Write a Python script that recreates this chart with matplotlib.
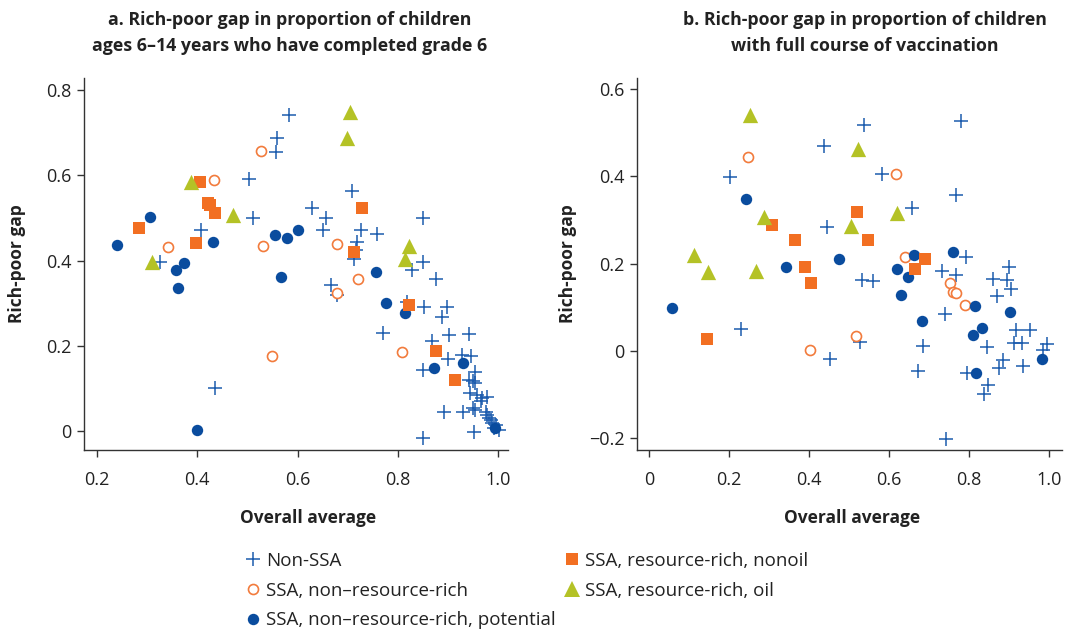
import matplotlib
matplotlib.use("Agg")
import matplotlib.pyplot as plt
from matplotlib.lines import Line2D

# ---- panel a: grade 6 completion ----
a_nonssa_x = [0.584, 0.560, 0.558, 0.503, 0.511, 0.407, 0.325, 0.435,
              0.709, 0.629, 0.657, 0.851, 0.651, 0.727, 0.759, 0.719, 0.716,
              0.712, 0.851, 0.828, 0.877, 0.667, 0.679, 0.819, 0.853, 0.898,
              0.888, 0.771, 0.902, 0.942, 0.869, 0.900, 0.929, 0.946, 0.850,
              0.954, 0.943, 0.951, 0.955, 0.944, 0.959, 0.969, 0.979, 0.966,
              0.950, 0.955, 0.893, 0.930, 0.976, 0.979, 0.983, 0.986, 0.989,
              0.996, 0.993, 1.003, 0.953, 0.851]
a_nonssa_y = [0.742, 0.687, 0.656, 0.591, 0.501, 0.473, 0.397, 0.100,
              0.564, 0.523, 0.499, 0.501, 0.473, 0.472, 0.462, 0.443, 0.425,
              0.403, 0.396, 0.377, 0.357, 0.343, 0.319, 0.303, 0.290, 0.290,
              0.268, 0.229, 0.225, 0.228, 0.210, 0.168, 0.178, 0.176, 0.142,
              0.139, 0.120, 0.116, 0.112, 0.090, 0.085, 0.077, 0.080, 0.070,
              0.053, 0.049, 0.045, 0.045, 0.045, 0.038, 0.030, 0.026, 0.018,
              0.014, 0.006, 0.002, -0.002, -0.017]

a_nonrr_x = [0.527, 0.434, 0.341, 0.531, 0.549, 0.679, 0.720, 0.679, 0.808]
a_nonrr_y = [0.657, 0.589, 0.433, 0.435, 0.176, 0.440, 0.357, 0.325, 0.185]

a_potential_x = [0.306, 0.432, 0.240, 0.556, 0.579, 0.601, 0.374, 0.357, 0.361,
                 0.567, 0.399, 0.757, 0.777, 0.814, 0.931, 0.872, 0.995]
a_potential_y = [0.503, 0.443, 0.437, 0.459, 0.454, 0.472, 0.395, 0.379, 0.335,
                 0.361, 0.002, 0.374, 0.301, 0.276, 0.159, 0.147, 0.006]

a_nonoil_x = [0.405, 0.422, 0.425, 0.435, 0.284, 0.397, 0.728, 0.712, 0.823,
              0.877, 0.915]
a_nonoil_y = [0.585, 0.536, 0.530, 0.512, 0.477, 0.442, 0.524, 0.421, 0.296,
              0.188, 0.120]

a_oil_x = [0.387, 0.472, 0.310, 0.704, 0.699, 0.823, 0.814]
a_oil_y = [0.585, 0.507, 0.397, 0.750, 0.687, 0.435, 0.404]

# ---- panel b: full vaccination ----
b_nonssa_x = [0.203, 0.438, 0.444, 0.538, 0.779, 0.582, 0.768, 0.657, 0.792,
              0.732, 0.767, 0.532, 0.561, 0.900, 0.861, 0.896, 0.905, 0.869,
              0.740, 0.917, 0.953, 0.913, 0.932, 0.996, 0.986, 0.528, 0.685,
              0.845, 0.886, 0.874, 0.934, 0.672, 0.794, 0.848, 0.838, 0.743,
              0.229, 0.453]
b_nonssa_y = [0.398, 0.469, 0.284, 0.518, 0.526, 0.405, 0.356, 0.327, 0.215,
              0.182, 0.173, 0.163, 0.161, 0.191, 0.164, 0.163, 0.142, 0.125,
              0.084, 0.047, 0.048, 0.018, 0.018, 0.015, 0.002, 0.021, 0.012,
              0.008, -0.021, -0.040, -0.034, -0.047, -0.051, -0.078, -0.099,
              -0.202, 0.050, -0.019]

b_nonrr_x = [0.247, 0.618, 0.640, 0.753, 0.761, 0.767, 0.790, 0.517, 0.403]
b_nonrr_y = [0.443, 0.404, 0.215, 0.155, 0.135, 0.132, 0.104, 0.033, 0.001]

b_potential_x = [0.243, 0.343, 0.476, 0.663, 0.759, 0.619, 0.648, 0.630,
                 0.814, 0.902, 0.683, 0.832, 0.810, 0.983, 0.818, 0.057]
b_potential_y = [0.349, 0.192, 0.210, 0.219, 0.226, 0.188, 0.170, 0.127,
                 0.103, 0.090, 0.069, 0.053, 0.037, -0.018, -0.051, 0.098]

b_nonoil_x = [0.307, 0.365, 0.519, 0.390, 0.405, 0.548, 0.690, 0.665, 0.144]
b_nonoil_y = [0.289, 0.255, 0.317, 0.193, 0.155, 0.253, 0.211, 0.188, 0.028]

b_oil_x = [0.253, 0.523, 0.288, 0.505, 0.113, 0.147, 0.268, 0.619]
b_oil_y = [0.541, 0.463, 0.307, 0.287, 0.219, 0.180, 0.184, 0.316]

labels = ["Non-SSA", "SSA, non\u2013resource-rich",
          "SSA, non\u2013resource-rich, potential",
          "SSA, resource-rich, nonoil", "SSA, resource-rich, oil"]

c_plus = "#1c5cae"
c_dot = "#0a4c9e"
c_open = "#f27b3c"
c_sq = "#f26f22"
c_tri = "#b4c226"

plt.rcParams["font.family"] = ["Open Sans", "DejaVu Sans"]
plt.rcParams["axes.unicode_minus"] = True


def draw(ax, d):
    ax.scatter(d[0], d[1], marker="+", s=9.5**2, color=c_plus, lw=1.1, zorder=3)
    ax.scatter(d[2], d[3], marker="o", s=7.2**2, facecolor="white",
               edgecolor=c_open, lw=1.2, zorder=3)
    ax.scatter(d[4], d[5], marker="o", s=8.2**2, color=c_dot, lw=0, zorder=3)
    ax.scatter(d[6], d[7], marker="s", s=8.6**2, color=c_sq, lw=0, zorder=3)
    ax.scatter(d[8], d[9], marker="^", s=11**2, color=c_tri, lw=0, zorder=3)
    for s in ("top", "right"):
        ax.spines[s].set_visible(False)
    for s in ("left", "bottom"):
        ax.spines[s].set_linewidth(1.0)
        ax.spines[s].set_color("#333333")
    ax.tick_params(direction="out", length=5, width=1.0, color="#333333",
                   labelsize=13, labelcolor="#222222")
    ax.tick_params(axis="x", pad=10)
    ax.tick_params(axis="y", pad=4)
    ax.set_xlabel("Overall average", fontsize=12.5, fontweight="bold",
                  color="#222222")
    ax.set_ylabel("Rich-poor gap", fontsize=12.5, fontweight="bold",
                  color="#222222")


fig = plt.figure(figsize=(10.7, 6.32), dpi=100)

ax1 = fig.add_axes([84 / 1070, 1 - 450 / 632, 424 / 1070, 372 / 632])
draw(ax1, [a_nonssa_x, a_nonssa_y, a_nonrr_x, a_nonrr_y, a_potential_x,
           a_potential_y, a_nonoil_x, a_nonoil_y, a_oil_x, a_oil_y])
ax1.set_xlim(0.174, 1.02)
ax1.set_ylim(-0.045, 0.829)
ax1.set_xticks([0.2, 0.4, 0.6, 0.8, 1.0])
ax1.set_xticklabels(["0.2", "0.4", "0.6", "0.8", "1.0"])
ax1.set_yticks([0, 0.2, 0.4, 0.6, 0.8])
ax1.set_yticklabels(["0", "0.2", "0.4", "0.6", "0.8"])
ax1.xaxis.set_label_coords(0.528, -0.158)
ax1.yaxis.set_label_coords(-0.136, 0.5)

ax2 = fig.add_axes([637 / 1070, 1 - 450 / 632, 425 / 1070, 372 / 632])
draw(ax2, [b_nonssa_x, b_nonssa_y, b_nonrr_x, b_nonrr_y, b_potential_x,
           b_potential_y, b_nonoil_x, b_nonoil_y, b_oil_x, b_oil_y])
ax2.set_xlim(-0.03, 1.0325)
ax2.set_ylim(-0.227, 0.625)
ax2.set_xticks([0, 0.2, 0.4, 0.6, 0.8, 1.0])
ax2.set_xticklabels(["0", "0.2", "0.4", "0.6", "0.8", "1.0"])
ax2.set_yticks([-0.2, 0, 0.2, 0.4, 0.6])
ax2.set_yticklabels(["\u22120.2", "0", "0.2", "0.4", "0.6"])
ax2.xaxis.set_label_coords(0.506, -0.158)
ax2.yaxis.set_label_coords(-0.142, 0.5)

tkw = dict(ha="center", va="center", fontsize=12.8, fontweight="bold",
           color="#222222")
fig.text(290 / 1070, 1 - 20 / 632, "a. Rich-poor gap in proportion of children", **tkw)
fig.text(290 / 1070, 1 - 46 / 632, "ages 6\u201314 years who have completed grade 6", **tkw)
fig.text(865 / 1070, 1 - 20 / 632, "b. Rich-poor gap in proportion of children", **tkw)
fig.text(865 / 1070, 1 - 46 / 632, "with full course of vaccination", **tkw)

# legend
h_plus = Line2D([], [], ls="none", marker="+", ms=9.5, mew=1.1, color=c_plus)
h_open = Line2D([], [], ls="none", marker="o", ms=7.2, mew=1.2,
                mfc="white", mec=c_open)
h_dot = Line2D([], [], ls="none", marker="o", ms=8.2, mew=0, color=c_dot)
h_sq = Line2D([], [], ls="none", marker="s", ms=8.6, mew=0, color=c_sq)
h_tri = Line2D([], [], ls="none", marker="^", ms=11, mew=0, color=c_tri)

lkw = dict(loc="upper left", frameon=False, fontsize=13.5, handlelength=0.8,
           handletextpad=0.3, labelspacing=0.62, borderpad=0,
           borderaxespad=0, labelcolor="#222222")
fig.legend([h_plus, h_open, h_dot], labels[:3],
           bbox_to_anchor=(245.5 / 1070, 1 - 552 / 632), **lkw)
fig.legend([h_sq, h_tri], labels[3:],
           bbox_to_anchor=(564.5 / 1070, 1 - 552 / 632), **lkw)

fig.savefig("out.png", dpi=100)
